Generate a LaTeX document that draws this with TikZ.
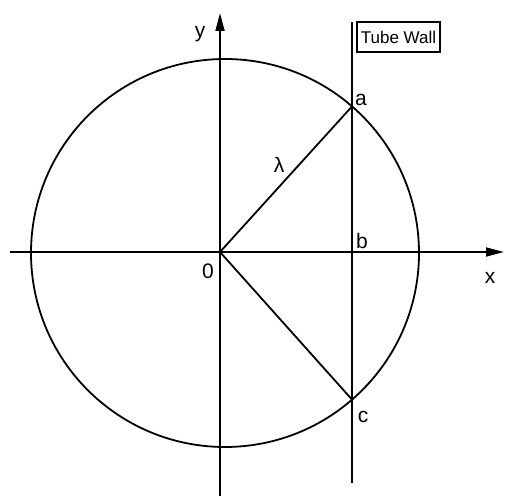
\documentclass[tikz,border=0pt]{standalone}
\usepackage{fontspec}
\setmainfont{Liberation Sans}
\usetikzlibrary{arrows.meta, positioning}

\begin{document}
\begin{tikzpicture}[
    x=1pt, y=-1pt,
    axis/.style={line width=1.8pt, -{Triangle[length=18pt, width=9pt]}},
    line/.style={line width=1.8pt},
    lbl/.style={font=\fontsize{21}{24}\selectfont, inner sep=0pt, anchor=base},
    wallbox/.style={draw, line width=1.4pt, font=\fontsize{17}{19}\selectfont, inner sep=1pt, minimum width=83pt, minimum height=30pt},
]
\useasboundingbox (0,0) rectangle (505,497);

\coordinate (O) at (220,252);
\coordinate (ctr) at (225,253);
\coordinate (xs) at (10,252);
\coordinate (xe) at (504,252);
\coordinate (ys) at (220,496);
\coordinate (ye) at (220,13);
\coordinate (wtop) at (352,22);
\coordinate (wbot) at (352,483);
\coordinate (a) at (352,106.4);
\coordinate (b) at (352,252);
\coordinate (c) at (352,399.6);

% circle and axes
\draw[line] (ctr) circle (194);
\draw[axis] (xs) -- (xe);
\draw[axis] (ys) -- (ye);
\draw[line] (wtop) -- (wbot);
\draw[line] (O) -- (a);
\draw[line] (O) -- (c);

\node[wallbox] (wall) at (398.5,37) {Tube Wall};

\node[lbl] (xlbl) at (490,283) {x};
\node[lbl] (ylbl) at (200,38) {y};
\node[lbl] (olbl) at (208,278) {0};
\node[lbl] (albl) at (361,106) {a};
\node[lbl] (blbl) at (362,248) {b};
\node[lbl] (clbl) at (363,422) {c};
\node[lbl] (lam) at (279,172) {λ};

\end{tikzpicture}
\end{document}
